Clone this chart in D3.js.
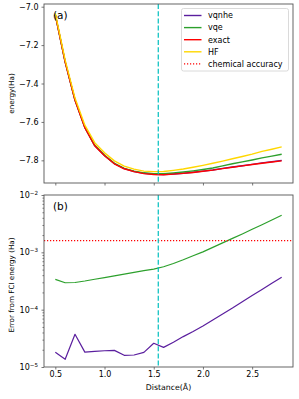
<!DOCTYPE html>
<html>
<head>
<meta charset="utf-8">
<script src="https://cdn.jsdelivr.net/npm/d3@7"></script>
<style>
  body { margin: 0; background: #fff; }
  svg { font-family: "DejaVu Sans", sans-serif; }
</style>
</head>
<body>
<div id="chart"></div>
<script>
'use strict'
// bond distance (Å)
let distance = [0.5, 0.6, 0.7, 0.8, 0.9, 1.0, 1.1, 1.2, 1.3, 1.4, 1.5, 1.6,
                1.7, 1.8, 1.9, 2.0, 2.1, 2.2, 2.3, 2.4, 2.5, 2.6, 2.7, 2.8];
// energies (Ha)
let exactE = [-7.043, -7.288, -7.487, -7.630, -7.724, -7.776, -7.818, -7.844, -7.859, -7.869, -7.874, -7.875,
              -7.872, -7.868, -7.863, -7.857, -7.851, -7.843, -7.836, -7.829, -7.822, -7.815, -7.809, -7.803];
let hfE = [-7.035, -7.278, -7.476, -7.617, -7.708, -7.761, -7.803, -7.830, -7.846, -7.856, -7.859, -7.858,
           -7.852, -7.845, -7.836, -7.826, -7.815, -7.804, -7.792, -7.780, -7.768, -7.753, -7.742, -7.730];
let vqeE = [-7.042, -7.287, -7.486, -7.628, -7.722, -7.774, -7.816, -7.842, -7.856, -7.865, -7.869, -7.870,
            -7.866, -7.861, -7.855, -7.848, -7.840, -7.829, -7.818, -7.808, -7.798, -7.787, -7.778, -7.768];
let vqnheE = [-7.042, -7.287, -7.486, -7.629, -7.723, -7.775, -7.817, -7.843, -7.858, -7.868, -7.873, -7.874,
              -7.871, -7.867, -7.862, -7.856, -7.850, -7.842, -7.835, -7.828, -7.821, -7.813, -7.807, -7.800];
// error from FCI energy (Ha)
let vqeErr = [3.37e-4, 2.95e-4, 2.98e-4, 3.16e-4, 3.39e-4, 3.63e-4, 3.89e-4, 4.17e-4, 4.47e-4, 4.79e-4, 5.1e-4, 5.6e-4,
              6.38e-4, 7.41e-4, 8.71e-4, 1.02e-3, 1.22e-3, 1.46e-3, 1.75e-3, 2.09e-3, 2.52e-3, 3.03e-3, 3.66e-3, 4.42e-3];
let vqnheErr = [1.80e-5, 1.36e-5, 3.72e-5, 1.82e-5, 1.87e-5, 1.92e-5, 1.95e-5, 1.60e-5, 1.62e-5, 1.80e-5, 2.59e-5, 2.20e-5,
                2.70e-5, 3.39e-5, 4.17e-5, 5.19e-5, 6.61e-5, 8.41e-5, 1.07e-4, 1.38e-4, 1.76e-4, 2.24e-4, 2.88e-4, 3.66e-4];
let chemAcc = 1.6e-3;
let eqDistance = 1.546;
let xTicks = [0.5, 1.0, 1.5, 2.0, 2.5];
let energyTicks = [-7.0, -7.2, -7.4, -7.6, -7.8];
let errTicks = [1e-5, 1e-4, 1e-3, 1e-2];
let seriesNames = ['vqnhe', 'vqe', 'exact', 'HF', 'chemical accuracy'];
let seriesColors = ['#5a1e9e', '#2ca02c', '#ff0000', '#ffd700', '#ff0000'];

let W = 299, H = 399;
let left = 44, right = 293;
let topA = {y0: 4, y1: 183};
let topB = {y0: 195, y1: 367};

let svg = d3.select('#chart')
  .append('svg')
  .attr('width', W)
  .attr('height', H);

let x = d3.scaleLinear().domain([0.385, 2.915]).range([left, right]);
let yA = d3.scaleLinear().domain([-7.918, -6.986]).range([topA.y1, topA.y0]);
let yB = d3.scaleLog().domain([1e-5, 1e-2]).range([topB.y1, topB.y0]);

let clipA = svg.append('clipPath').attr('id', 'clipA');
clipA.append('rect').attr('x', left).attr('y', topA.y0).attr('width', right - left).attr('height', topA.y1 - topA.y0);
let clipB = svg.append('clipPath').attr('id', 'clipB');
clipB.append('rect').attr('x', left).attr('y', topB.y0).attr('width', right - left).attr('height', topB.y1 - topB.y0);

function drawLine(g, yScale, values, color, width) {
  let line = d3.line()
    .x(function(d, i) { return x(distance[i]); })
    .y(function(d) { return yScale(d); });
  g.append('path')
    .datum(values)
    .attr('fill', 'none')
    .attr('stroke', color)
    .attr('stroke-width', width)
    .attr('stroke-linejoin', 'round')
    .attr('d', line);
}

// ---- panel (a)
let gA = svg.append('g').attr('clip-path', 'url(#clipA)');
drawLine(gA, yA, vqnheE, seriesColors[0], 1.4);
drawLine(gA, yA, vqeE, seriesColors[1], 1.4);
drawLine(gA, yA, exactE, seriesColors[2], 1.4);
drawLine(gA, yA, hfE, seriesColors[3], 1.4);
gA.append('line')
  .attr('x1', x(eqDistance)).attr('x2', x(eqDistance))
  .attr('y1', topA.y0).attr('y2', topA.y1)
  .attr('stroke', '#00bfbf')
  .attr('stroke-width', 1.2)
  .attr('stroke-dasharray', '5,2.2');

// ---- panel (b)
let gB = svg.append('g').attr('clip-path', 'url(#clipB)');
drawLine(gB, yB, vqnheErr, seriesColors[0], 1.2);
drawLine(gB, yB, vqeErr, seriesColors[1], 1.2);
gB.append('line')
  .attr('x1', left).attr('x2', right)
  .attr('y1', yB(chemAcc)).attr('y2', yB(chemAcc))
  .attr('stroke', '#ff0000')
  .attr('stroke-width', 1.2)
  .attr('stroke-dasharray', '1.2,1.8');
gB.append('line')
  .attr('x1', x(eqDistance)).attr('x2', x(eqDistance))
  .attr('y1', topB.y0).attr('y2', topB.y1)
  .attr('stroke', '#00bfbf')
  .attr('stroke-width', 1.2)
  .attr('stroke-dasharray', '5,2.2');

// ---- axes
let spine = '#555';
let xAxisA = d3.axisBottom(x).tickValues(xTicks).tickSize(2.5).tickFormat('');
svg.append('g').attr('transform', 'translate(0,' + topA.y1 + ')').call(xAxisA);
let yAxisA = d3.axisLeft(yA).tickValues(energyTicks).tickSize(2.5).tickPadding(3).tickFormat(d3.format('.1f'));
svg.append('g').attr('transform', 'translate(' + left + ',0)').call(yAxisA);

let xAxisB = d3.axisBottom(x).tickValues(xTicks).tickSize(2.5).tickPadding(2).tickFormat(d3.format('.1f'));
svg.append('g').attr('transform', 'translate(0,' + topB.y1 + ')').call(xAxisB);

let minorTicks = [];
[1e-5, 1e-4, 1e-3].forEach(function(base) {
  for (let k = 2; k <= 9; k++) minorTicks.push(base * k);
});
let yAxisBMinor = d3.axisLeft(yB).tickValues(minorTicks).tickSize(1.5).tickFormat('');
svg.append('g').attr('transform', 'translate(' + left + ',0)').call(yAxisBMinor);
let yAxisB = d3.axisLeft(yB).tickValues(errTicks).tickSize(2.5).tickFormat('');
let gyB = svg.append('g').attr('transform', 'translate(' + left + ',0)').call(yAxisB);
gyB.selectAll('.tick').each(function(d) {
  let t = d3.select(this).append('text')
    .attr('x', -6)
    .attr('dy', '0.32em')
    .attr('text-anchor', 'end')
    .attr('fill', '#000')
    .attr('font-size', 8);
  t.append('tspan').text('10');
  t.append('tspan')
    .attr('dy', '-0.55em')
    .attr('font-size', 5.6)
    .text('\u2212' + Math.round(-Math.log10(d)));
});

svg.selectAll('.domain').remove();
svg.selectAll('.tick line').attr('stroke', spine).attr('stroke-width', 0.8);
svg.selectAll('.tick text').attr('font-size', 8).attr('fill', '#000')
  .attr('font-family', '"DejaVu Sans", sans-serif');
gyB.selectAll('.tick text tspan:last-child').attr('font-size', 5.6);

// frames
[topA, topB].forEach(function(p) {
  svg.append('rect')
    .attr('x', left).attr('y', p.y0)
    .attr('width', right - left).attr('height', p.y1 - p.y0)
    .attr('fill', 'none')
    .attr('stroke', spine)
    .attr('stroke-width', 0.9);
});

// panel letters and labels
svg.append('text').attr('x', 53).attr('y', 19).attr('font-size', 10.5).text('(a)');
svg.append('text').attr('x', 53).attr('y', 210).attr('font-size', 10.5).text('(b)');

svg.append('text')
  .attr('transform', 'translate(14,' + ((topA.y0 + topA.y1) / 2) + ') rotate(-90)')
  .attr('text-anchor', 'middle')
  .attr('font-size', 7.2)
  .text('energy(Ha)');
svg.append('text')
  .attr('transform', 'translate(14,' + ((topB.y0 + topB.y1) / 2 + 4) + ') rotate(-90)')
  .attr('text-anchor', 'middle')
  .attr('font-size', 7.2)
  .text('Error from FCI energy (Ha)');
svg.append('text')
  .attr('x', (left + right) / 2)
  .attr('y', 389.5)
  .attr('text-anchor', 'middle')
  .attr('font-size', 7.8)
  .text('Distance(Å)');

// legend
let legend = svg.append('g').attr('transform', 'translate(181.5,8.5)');
legend.append('rect')
  .attr('width', 107).attr('height', 62.5)
  .attr('rx', 2)
  .attr('fill', '#fff')
  .attr('fill-opacity', 0.8)
  .attr('stroke', '#d0d0d0')
  .attr('stroke-width', 0.8);
seriesNames.forEach(function(name, i) {
  let yy = 7 + i * 12.1;
  legend.append('line')
    .attr('x1', 2.5).attr('x2', 20)
    .attr('y1', yy).attr('y2', yy)
    .attr('stroke', seriesColors[i])
    .attr('stroke-width', 1.4)
    .attr('stroke-dasharray', i === 4 ? '1.2,1.8' : null);
  legend.append('text')
    .attr('x', 26.5).attr('y', yy)
    .attr('dy', '0.35em')
    .attr('font-size', 8)
    .text(name);
});
</script>
</body>
</html>
